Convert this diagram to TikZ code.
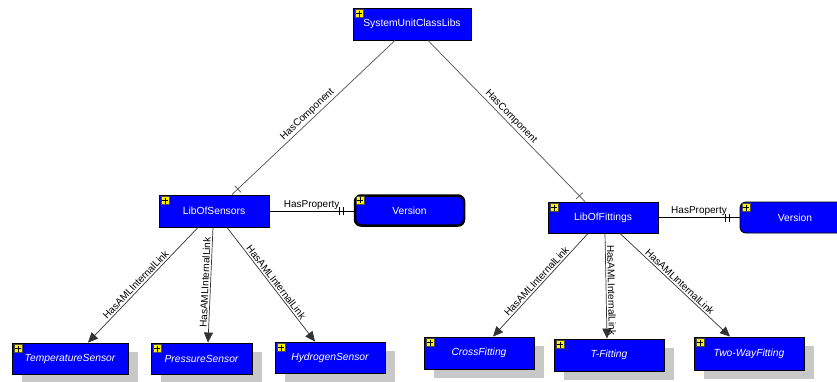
\documentclass[tikz,border=0pt]{standalone}
\usepackage{fontspec}
\setmainfont{Liberation Sans}
\usetikzlibrary{arrows.meta,shadows,decorations.markings}
\definecolor{nodeblue}{RGB}{0,0,255}
\definecolor{shadowgray}{RGB}{200,200,200}
\definecolor{linegray}{RGB}{80,80,80}
\begin{document}
\begin{tikzpicture}[x=1pt,y=-1pt,
  cls/.style={draw=black, line width=0.9pt, fill=nodeblue, text=white, minimum height=32pt, inner sep=0pt, font=\fontsize{10.3}{12}\selectfont},
  leaf/.style={cls, font=\fontsize{10.3}{12}\selectfont\itshape, drop shadow={shadow xshift=10pt, shadow yshift=-9pt, fill=shadowgray, opacity=1}},
  verbox/.style={cls, rounded corners=6pt},
  link/.style={draw=linegray, line width=0.7pt},
  arr/.style={draw=black!80, line width=0.7pt, -{Triangle[length=10pt,width=9pt]}},
  lbl/.style={font=\fontsize{10}{12}\selectfont, sloped, above, inner sep=1.5pt, text=black},
  onetick/.style={postaction={decorate, decoration={markings, mark=at position -8pt with {\draw[line width=0.7pt] (0pt,-4.5pt) -- (0pt,4.5pt);}}}},
  twotick/.style={postaction={decorate, decoration={markings,
      mark=at position -14pt with {\draw[line width=0.7pt] (0pt,-4pt) -- (0pt,4pt);},
      mark=at position -10.5pt with {\draw[line width=0.7pt] (0pt,-4pt) -- (0pt,4pt);}}}},
  icon/.style={fill=yellow, draw=black!70, line width=0.6pt}
]
\useasboundingbox (0,0) rectangle (837,381);
\clip (0,0) rectangle (837,381);

% nodes
\node[cls, minimum width=118pt] (sys) at (412,24) {SystemUnitClassLibs};
\node[cls, minimum width=110pt] (sens) at (214,211) {LibOfSensors};
\node[verbox, line width=2.5pt, minimum width=109pt, minimum height=30pt] (ver1) at (409.5,210.5) {Version};
\node[cls, minimum width=110pt, minimum height=31pt] (fit) at (603,217.5) {LibOfFittings};
\node[verbox, minimum width=110pt, minimum height=31pt] (ver2) at (795,217.5) {Version};

\node[leaf, minimum width=116pt, minimum height=31pt] (temp) at (70,358.5) {TemperatureSensor};
\node[leaf, minimum width=101pt, minimum height=31pt] (pres) at (201.5,358.5) {PressureSensor};
\node[leaf, minimum width=110pt, minimum height=31pt] (hyd) at (330,357.5) {HydrogenSensor};
\node[leaf, minimum width=110pt, minimum height=32pt] (cross) at (479,353) {CrossFitting};
\node[leaf, minimum width=110pt, minimum height=32pt] (tfit) at (609,355) {T-Fitting};
\node[leaf, minimum width=110pt, minimum height=33pt] (two) at (749,353.5) {Two-WayFitting};

% HasComponent
\draw[link, onetick] ([xshift=-17pt]sys.south) -- node[lbl, pos=0.51]{HasComponent} ([xshift=18pt]sens.north);
\draw[link, onetick] ([xshift=16pt]sys.south) -- node[lbl, pos=0.5]{HasComponent} ([xshift=-18pt]fit.north);

% HasProperty
\draw[link, draw=black, twotick] (sens.east) -- node[lbl, pos=0.5]{HasProperty} (sens.east -| ver1.west);
\draw[link, draw=black, twotick] (fit.east) -- node[lbl, pos=0.5]{HasProperty} (fit.east -| ver2.west);

% HasAMLInternalLink
\draw[arr] ([xshift=-16pt]sens.south) -- node[lbl, pos=0.53]{HasAMLInternalLink} ([xshift=18pt]temp.north);
\draw[arr] ([xshift=-1pt]sens.south) -- node[lbl, pos=0.48]{HasAMLInternalLink} ([xshift=6.5pt]pres.north);
\draw[arr] ([xshift=13pt]sens.south) -- node[lbl, pos=0.51]{HasAMLInternalLink} ([xshift=-15pt]hyd.north);
\draw[arr] ([xshift=-15pt]fit.south) -- node[lbl, pos=0.5]{HasAMLInternalLink} ([xshift=14pt]cross.north);
\draw[arr] ([xshift=2pt]fit.south) -- node[lbl, pos=0.54]{HasAMLInternalLink} ([xshift=-2pt]tfit.north);
\draw[arr] ([xshift=17pt]fit.south) -- node[lbl, pos=0.51]{HasAMLInternalLink} ([xshift=-19pt]two.north);

% plus icons
\foreach \n in {sys,sens,ver1,fit,ver2,temp,pres,hyd,cross,tfit,two} {
  \draw[icon] ([shift={(2.5pt,-2pt)}]\n.north west) rectangle ++(8pt,-8pt);
  \draw[line width=1pt] ([shift={(6.5pt,-3pt)}]\n.north west) -- ++(0pt,-6pt)
                        ([shift={(3.5pt,-6pt)}]\n.north west) -- ++(6pt,0pt);
}
\end{tikzpicture}
\end{document}
